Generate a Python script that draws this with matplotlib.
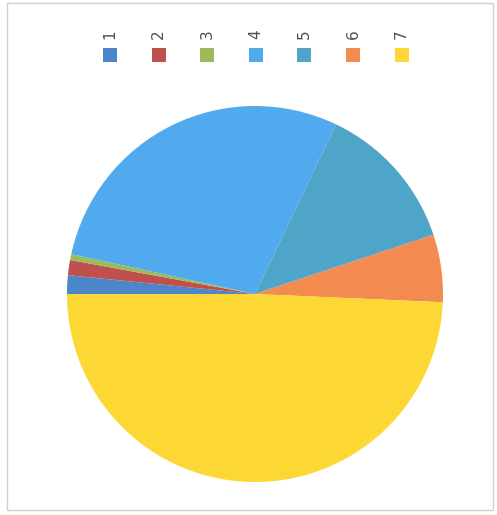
import matplotlib.pyplot as plt
from matplotlib.patches import Rectangle

# slice values (percent)
labels = ["1", "2", "3", "4", "5", "6", "7"]
values = [1.6, 1.3, 0.5, 28.7, 12.8, 5.8, 49.3]
colors = ["#4a86c8", "#c0504d", "#9bbb59", "#52aaee", "#4ea5c8", "#f38b50", "#fdd835"]

W, H = 497, 515
fig = plt.figure(figsize=(W / 100, H / 100), dpi=100)

# outer frame
fig.add_artist(Rectangle((7 / W, 1 - 510 / H), 486 / W, 507 / H,
                         transform=fig.transFigure, fill=False,
                         edgecolor="#d0d0d0", linewidth=1))

# pie
cx, cy, r = 255, 294, 188
ax = fig.add_axes([(cx - r) / W, 1 - (cy + r) / H, 2 * r / W, 2 * r / H])
ax.pie(values, colors=colors, startangle=180, counterclock=False,
       wedgeprops=dict(linewidth=0))
ax.set_xlim(-1, 1)
ax.set_ylim(-1, 1)
ax.set_aspect("equal")
ax.axis("off")

# legend: rotated labels over square markers
x0, dx = 110, 48.6
for i, (lab, col) in enumerate(zip(labels, colors)):
    x = x0 + i * dx
    fig.add_artist(Rectangle(((x - 7) / W, 1 - 62 / H), 14 / W, 14 / H,
                             transform=fig.transFigure, facecolor=col,
                             edgecolor="none"))
    fig.text(x / W, 1 - 34 / H, lab, rotation=90, ha="center", va="center",
             fontsize=11, color="#505050")

plt.savefig("out.png", dpi=100)
